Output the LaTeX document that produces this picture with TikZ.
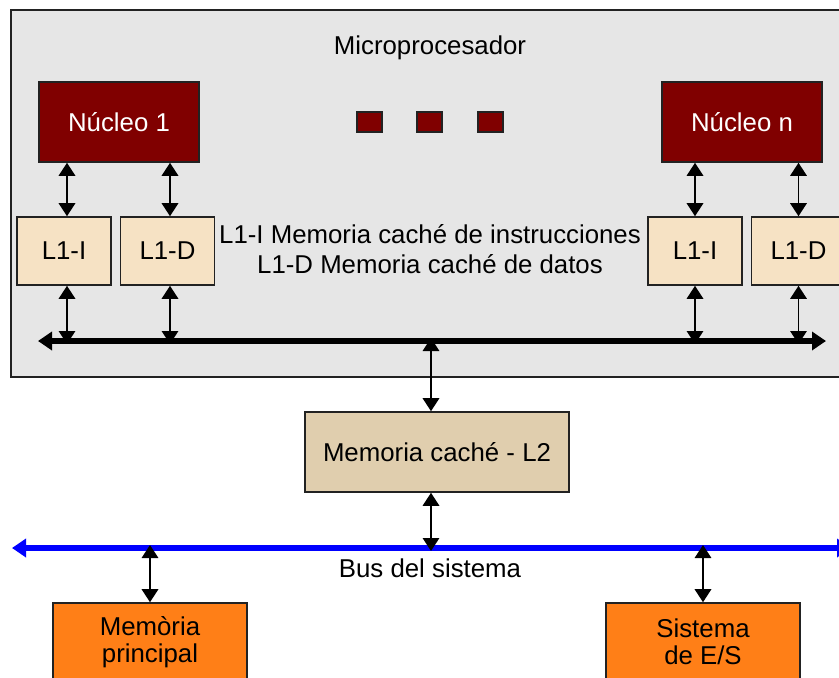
\documentclass[tikz,border=0pt]{standalone}
\usepackage{fontspec}
\setmainfont{Liberation Sans}
\usetikzlibrary{arrows.meta,positioning,calc}
\definecolor{gray1}{HTML}{E6E6E6}
\definecolor{coreRed}{HTML}{800000}
\definecolor{lonefill}{HTML}{F6E2C4}
\definecolor{ltwofill}{HTML}{E0CEAE}
\definecolor{ioOrange}{HTML}{FF7F17}
\definecolor{edge}{HTML}{222222}
\tikzset{
  box/.style={draw=edge, line width=1.6pt, inner sep=0pt, align=center,
    font=\fontsize{25.8}{27}\selectfont},
  corebox/.style={box, fill=coreRed, text=white, minimum width=160pt, minimum height=80pt},
  lonebox/.style={box, fill=lonefill, minimum width=94pt, minimum height=68pt},
  dotbox/.style={draw=edge, line width=1.6pt, fill=coreRed, minimum width=25pt, minimum height=20pt, inner sep=0pt},
  biarrow/.style={line width=1.6pt, {Triangle[length=13pt,width=16.5pt]}-{Triangle[length=13pt,width=16.5pt]}},
  busline/.style={line width=6pt, {Triangle[length=14pt,width=18pt]}-{Triangle[length=14pt,width=18pt]}},
  lbl/.style={font=\fontsize{25.8}{30}\selectfont, align=center, inner sep=0pt}
}
\begin{document}
\begin{tikzpicture}[x=1pt,y=-1pt]
\useasboundingbox (0,0) rectangle (839,678);
% microprocessor container
\draw[draw=edge, line width=1.6pt, fill=gray1] (11,10) rectangle (870,377);
\node[lbl] (micro) at (430,48) {Microprocesador};
% cores
\node[corebox] (c1) at (119,122) {Núcleo 1};
\node[corebox] (cn) at (742,122) {Núcleo n};
\node[dotbox] (d1) at (369.5,122) {};
\node[dotbox] (d2) at (429.5,122) {};
\node[dotbox] (d3) at (490.5,122) {};
% L1 caches
\node[lonebox] (li1) at (64,251) {L1-I};
\node[lonebox] (ld1) at (167.5,251) {L1-D};
\node[lonebox] (lin) at (695,251) {L1-I};
\node[lonebox] (ldn) at (798.5,251) {L1-D};
\node[lbl] (legend) at (430,249) {L1-I Memoria caché de instrucciones\\L1-D Memoria caché de datos};
% internal bus
\coordinate (busL) at (38,341);
\coordinate (busR) at (826,341);
\draw[busline] (busL) -- (busR);
% core <-> L1
\draw[biarrow] ([xshift=3pt]li1.north) -- ([xshift=3pt]li1.north |- c1.south);
\draw[biarrow] ([xshift=2.5pt]ld1.north) -- ([xshift=2.5pt]ld1.north |- c1.south);
\draw[biarrow] (lin.north) -- (lin.north |- cn.south);
\draw[biarrow] (ldn.north) -- (ldn.north |- cn.south);
% L1 <-> bus
\draw[biarrow] ([xshift=3pt]li1.south) -- ([xshift=3pt,yshift=-3pt]li1.south |- busL);
\draw[biarrow] ([xshift=2.5pt]ld1.south) -- ([xshift=2.5pt,yshift=-3pt]ld1.south |- busL);
\draw[biarrow] (lin.south) -- ([yshift=-3pt]lin.south |- busL);
\draw[biarrow] (ldn.south) -- ([yshift=-3pt]ldn.south |- busL);
% L2
\node[box, fill=ltwofill, minimum width=264pt, minimum height=80pt] (l2) at (437,452) {Memoria caché - L2};
\draw[biarrow] ([xshift=-6pt]l2.north) -- ([xshift=-6pt,yshift=3pt]l2.north |- busL);
% system bus
\coordinate (sbL) at (12,548);
\coordinate (sbR) at (851,548);
\draw[busline, draw=blue] (sbL) -- (sbR);
\node[lbl] (sbtext) at (430,568) {Bus del sistema};
\draw[biarrow] ([xshift=-6pt]l2.south) -- ([xshift=-6pt,yshift=-3pt]l2.south |- sbL);
% memory and IO
\node[box, fill=ioOrange, minimum width=194pt, minimum height=78pt] (mem) at (150,642) {Memòria\\principal};
\node[box, fill=ioOrange, minimum width=194pt, minimum height=78pt] (io) at (703,642) {Sistema\\de E/S};
\draw[biarrow] (mem.north) -- ([yshift=3pt]mem.north |- sbL);
\draw[biarrow] (io.north) -- ([yshift=3pt]io.north |- sbL);
\end{tikzpicture}
\end{document}
